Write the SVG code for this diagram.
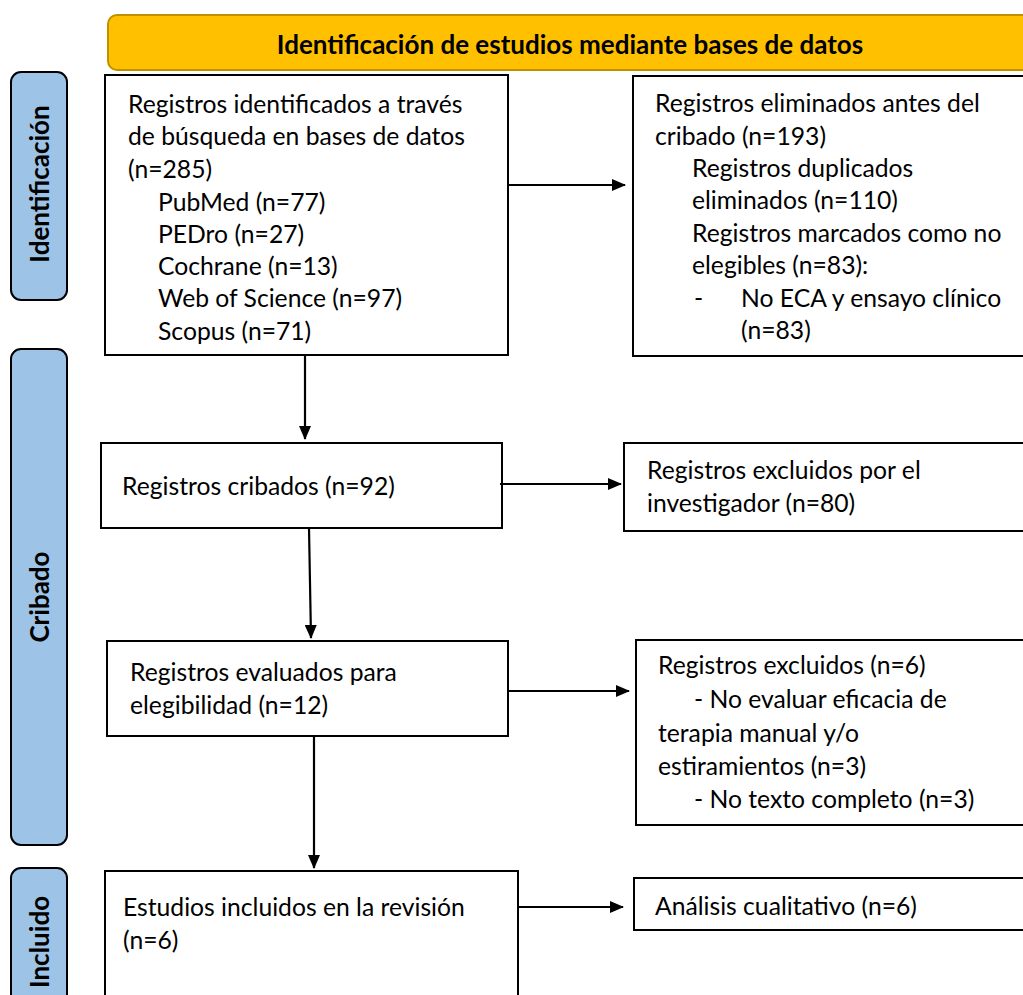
<svg xmlns="http://www.w3.org/2000/svg" width="1023" height="995" viewBox="0 0 1023 995">
<defs>
<marker id="ah" markerWidth="14" markerHeight="12" refX="13" refY="6" orient="auto" markerUnits="userSpaceOnUse">
<path d="M0,0 L14,6 L0,12 Z" fill="#000"/>
</marker>
<style>
.box{fill:#fff;stroke:#000;stroke-width:2}
.side{fill:#9DC3E6;stroke:#000;stroke-width:2}
.t{font-family:Lato,"Open Sans","Liberation Sans",sans-serif;font-size:24.7px;fill:#000}
.s{font-family:Lato,"Open Sans","Liberation Sans",sans-serif;font-size:26px;font-weight:bold;fill:#000}
.c{stroke:#000;stroke-width:2.2;fill:none;marker-end:url(#ah)}
</style>
</defs>
<rect width="1023" height="995" fill="#fff"/>
<g id="header">
<rect x="108" y="15" width="930" height="55" rx="9" fill="#FFC000" stroke="#BF9000" stroke-width="2"/>
<text class="s" x="570" y="54" text-anchor="middle" font-size="25.4">Identificación de estudios mediante bases de datos</text>
</g>
<g id="side-identificacion">
<rect class="side" x="11" y="72" width="56" height="228" rx="10"/>
<text class="s" transform="translate(49,184) rotate(-90)" text-anchor="middle">Identificación</text>
</g>
<g id="side-cribado">
<rect class="side" x="11" y="349" width="56" height="496" rx="10"/>
<text class="s" transform="translate(49,597) rotate(-90)" text-anchor="middle">Cribado</text>
</g>
<g id="side-incluido">
<rect class="side" x="11" y="868" width="56" height="150" rx="10"/>
<text class="s" transform="translate(49,942) rotate(-90)" text-anchor="middle">Incluido</text>
</g>
<g id="n1">
<rect class="box" x="105" y="75" width="403" height="280"/>
<text class="t" x="128" y="113">Registros identificados a través</text>
<text class="t" x="128" y="145">de búsqueda en bases de datos</text>
<text class="t" x="128" y="178">(n=285)</text>
<text class="t" x="158" y="211">PubMed (n=77)</text>
<text class="t" x="158" y="243">PEDro (n=27)</text>
<text class="t" x="158" y="275">Cochrane (n=13)</text>
<text class="t" x="158" y="307">Web of Science (n=97)</text>
<text class="t" x="158" y="340">Scopus (n=71)</text>
</g>
<g id="n2">
<rect class="box" x="633" y="76" width="400" height="280"/>
<text class="t" x="655" y="112">Registros eliminados antes del</text>
<text class="t" x="655" y="145">cribado (n=193)</text>
<text class="t" x="692" y="177">Registros duplicados</text>
<text class="t" x="692" y="209">eliminados (n=110)</text>
<text class="t" x="692" y="242">Registros marcados como no</text>
<text class="t" x="692" y="274">elegibles (n=83):</text>
<text class="t" x="694" y="307">-</text>
<text class="t" x="741" y="307">No ECA y ensayo clínico</text>
<text class="t" x="741" y="339">(n=83)</text>
</g>
<g id="n3">
<rect class="box" x="101" y="443" width="401" height="85"/>
<text class="t" x="122" y="495">Registros cribados (n=92)</text>
</g>
<g id="n4">
<rect class="box" x="624" y="443" width="409" height="88"/>
<text class="t" x="647" y="479">Registros excluidos por el</text>
<text class="t" x="647" y="512">investigador (n=80)</text>
</g>
<g id="n5">
<rect class="box" x="107" y="641" width="401" height="95"/>
<text class="t" x="130" y="681">Registros evaluados para</text>
<text class="t" x="130" y="714">elegibilidad (n=12)</text>
</g>
<g id="n6">
<rect class="box" x="636" y="640" width="397" height="185"/>
<text class="t" x="658" y="674">Registros excluidos (n=6)</text>
<text class="t" x="694" y="708">- No evaluar eficacia de</text>
<text class="t" x="658" y="742">terapia manual y/o</text>
<text class="t" x="658" y="775">estiramientos (n=3)</text>
<text class="t" x="694" y="808">- No texto completo (n=3)</text>
</g>
<g id="n7">
<rect class="box" x="105" y="871" width="413" height="140"/>
<text class="t" x="123" y="916">Estudios incluidos en la revisión</text>
<text class="t" x="123" y="949">(n=6)</text>
</g>
<g id="n8">
<rect class="box" x="634" y="878" width="399" height="52"/>
<text class="t" x="655" y="915">Análisis cualitativo (n=6)</text>
</g>
<g id="connectors">
<line class="c" x1="508" y1="185" x2="625" y2="185"/>
<line class="c" x1="305" y1="355" x2="305" y2="439"/>
<line class="c" x1="500" y1="484" x2="621" y2="484"/>
<line class="c" x1="309" y1="528" x2="311" y2="638"/>
<line class="c" x1="508" y1="691" x2="629" y2="691"/>
<line class="c" x1="314" y1="736" x2="314" y2="868"/>
<line class="c" x1="518" y1="907" x2="623" y2="907"/>
</g>
</svg>
